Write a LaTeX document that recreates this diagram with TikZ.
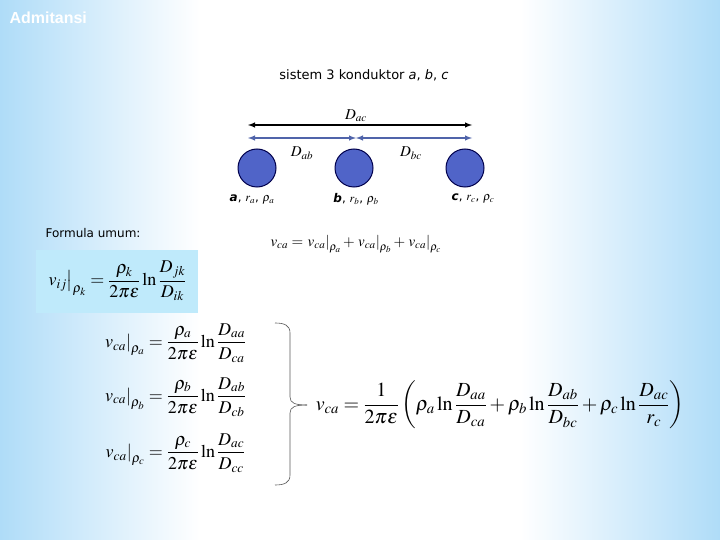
\documentclass[tikz,border=0pt]{standalone}
\usepackage{amsmath}
\usepackage{mathptmx}
\usepackage{fontspec}
\setmainfont{Liberation Serif}
\newfontfamily\labfont{DejaVu Sans}
\newfontfamily\headfont{Liberation Sans}
\begin{document}
\begin{tikzpicture}[x=1pt,y=-1pt,
  cond/.style={circle,minimum size=38pt,inner sep=0pt,fill={rgb,255:red,80;green,100;blue,200},draw=blue!30!black,line width=1pt},
  lab/.style={font=\labfont\fontsize{12}{14}\selectfont},
  eqs/.style={font=\fontsize{18}{21}\selectfont},
  dim/.style={<->,>=latex,line width=1.4pt}]
\definecolor{edge}{RGB}{175,220,248}
\useasboundingbox (0,0) rectangle (720,540);
\fill[white] (0,0) rectangle (720,540);
\shade[left color=edge,right color=white] (0,0) rectangle (200,540);
\shade[right color=edge,left color=white] (520,0) rectangle (720,540);
\node[font=\headfont\bfseries\fontsize{16}{18}\selectfont,text=white,anchor=west] (title) at (6,18) {Admitansi};
\node[lab,font=\labfont\fontsize{13}{15}\selectfont] (sub) at (364,75) {sistem 3 konduktor \textit{a}, \textit{b}, \textit{c}};
\node[cond] (a) at (257,168) {};
\node[cond] (b) at (354,168) {};
\node[cond] (c) at (465,168) {};
\coordinate (l1) at (248,125); \coordinate (r1) at (472,125);
\coordinate (l2) at (248,138); \coordinate (m2) at (356,138); \coordinate (r2) at (472,138);
\draw[dim] (l1) -- (r1);
\draw[dim,draw={rgb,255:red,80;green,100;blue,170}] (l2) -- (m2);
\draw[dim,draw={rgb,255:red,80;green,100;blue,170}] (m2) -- (r2);
\node[font=\fontsize{15}{17}\selectfont] (dac) at (356,116) {$D_{ac}$};
\node[font=\fontsize{15}{17}\selectfont] (dab) at (302,153) {$D_{ab}$};
\node[font=\fontsize{15}{17}\selectfont] (dbc) at (411,153) {$D_{bc}$};
\node[lab] (la) at (252,200) {\textbf{\textit{a}}, $r_a$, $\rho_a$};
\node[lab] (lb) at (356,199) {\textbf{\textit{b}}, $r_b$, $\rho_b$};
\node[lab] (lc) at (473,199) {\textbf{\textit{c}}, $r_c$, $\rho_c$};
\node[lab,anchor=west,font=\labfont\fontsize{12}{14}\selectfont] (fu) at (42,233) {Formula umum:};
\node[font=\fontsize{18}{21}\selectfont,fill=cyan!25,minimum width=162pt,minimum height=63pt,inner sep=1pt] (gen) at (117,281) {$\left.v_{ij}\right|_{\rho_k}=\dfrac{\rho_k}{2\pi\varepsilon}\ln\dfrac{D_{jk}}{D_{ik}}$};
\node[font=\fontsize{15}{17}\selectfont] (sum) at (356,244) {$v_{ca}=\left.v_{ca}\right|_{\rho_a}+\left.v_{ca}\right|_{\rho_b}+\left.v_{ca}\right|_{\rho_c}$};
\node[eqs] (e1) at (175,343) {$\left.v_{ca}\right|_{\rho_a}=\dfrac{\rho_a}{2\pi\varepsilon}\ln\dfrac{D_{aa}}{D_{ca}}$};
\node[eqs] (e2) at (175,397) {$\left.v_{ca}\right|_{\rho_b}=\dfrac{\rho_b}{2\pi\varepsilon}\ln\dfrac{D_{ab}}{D_{cb}}$};
\node[eqs] (e3) at (175,453) {$\left.v_{ca}\right|_{\rho_c}=\dfrac{\rho_c}{2\pi\varepsilon}\ln\dfrac{D_{ac}}{D_{cc}}$};
\coordinate (bt) at (275,323); \coordinate (bb) at (275,485);
\coordinate (tip) at (307,405);
\draw[gray!70!black,line width=0.6pt] (bt) .. controls (284,323) and (290,325) .. (290,333) -- (290,397) .. controls (290,403) and (295,405) .. (tip);
\draw[gray!70!black,line width=0.6pt] (bb) .. controls (284,485) and (290,483) .. (290,475) -- (290,413) .. controls (290,407) and (295,405) .. (tip);
\node[font=\fontsize{20}{24}\selectfont] (fin) at (500,405) {$v_{ca}=\dfrac{1}{2\pi\varepsilon}\left(\rho_a\ln\dfrac{D_{aa}}{D_{ca}}+\rho_b\ln\dfrac{D_{ab}}{D_{bc}}+\rho_c\ln\dfrac{D_{ac}}{r_c}\right)$};
\end{tikzpicture}
\end{document}
